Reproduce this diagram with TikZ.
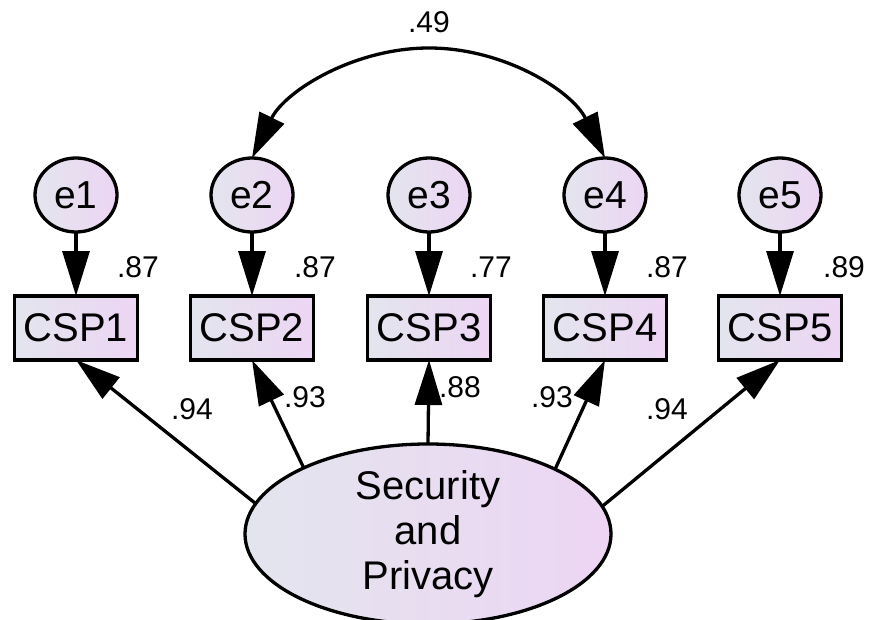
\documentclass[tikz,border=0pt]{standalone}
\usepackage{fontspec}
\setmainfont{Liberation Sans}
\usetikzlibrary{arrows.meta,shapes.geometric}
\definecolor{fillL}{RGB}{227,229,238}
\definecolor{fillR}{RGB}{237,213,243}
\begin{document}
\begin{tikzpicture}[x=1pt,y=-1pt,
  every node/.style={inner sep=0pt, outer sep=0pt},
  errv/.style={ellipse, draw, line width=3.3pt, minimum width=82pt, minimum height=74pt,
    left color=fillL, right color=fillR, font=\fontsize{39}{39}\selectfont},
  obsv/.style={rectangle, draw, line width=3.3pt, minimum width=123pt, minimum height=64pt,
    left color=fillL, right color=fillR, font=\fontsize{40}{40}\selectfont},
  latv/.style={ellipse, draw, line width=3.3pt, minimum width=366pt, minimum height=163pt,
    left color=fillL, right color=fillR, font=\fontsize{40}{45}\selectfont, align=center},
  lbl/.style={font=\fontsize{30}{30}\selectfont},
  pathar/.style={line width=3.3pt, -{Triangle[length=45pt,width=27pt]}},
  covtip/.style={line width=3.3pt, -{Triangle[length=45pt,width=27pt]}}
]
\useasboundingbox (0,0) rectangle (869,620);

% error terms
\node[errv] (e1) at (76,195) {e1};
\node[errv] (e2) at (252,195) {e2};
\node[errv] (e3) at (429,195) {e3};
\node[errv] (e4) at (605,195) {e4};
\node[errv] (e5) at (780,195) {e5};

% observed variables
\node[obsv] (c1) at (76,328) {CSP1};
\node[obsv] (c2) at (252,328) {CSP2};
\node[obsv] (c3) at (429,328) {CSP3};
\node[obsv] (c4) at (605,328) {CSP4};
\node[obsv] (c5) at (780,328) {CSP5};

% latent
\node[latv] (S) at (428,534) {Security\\and\\Privacy};

% error paths
\draw[pathar] (e1.south) -- (c1.north);
\draw[pathar] (e2.south) -- (c2.north);
\draw[pathar] (e3.south) -- (c3.north);
\draw[pathar] (e4.south) -- (c4.north);
\draw[pathar] (e5.south) -- (c5.north);

% loadings
\draw[pathar] (S.170.5) -- (c1.south);
\draw[pathar] (S.152.5) -- (c2.south);
\draw[pathar] (S.north) -- (c3.south);
\draw[pathar] (S.27.5) -- (c4.south);
\draw[pathar] (S.9.5) -- (c5.south);

% covariance (circular arc)
\coordinate (covtop) at (429,48);
\draw[covtip] (covtop) .. controls +(-75,0) and +(33,-67) .. (e2.north);
\draw[covtip] (covtop) .. controls +(75,0) and +(-33,-67) .. (e4.north);

% labels
\node[lbl] (l49) at (429,22) {.49};
\node[lbl] (r1) at (138,267) {.87};
\node[lbl] (r2) at (315,267) {.87};
\node[lbl] (r3) at (491,267) {.77};
\node[lbl] (r4) at (667,267) {.87};
\node[lbl] (r5) at (844,267) {.89};
\node[lbl] (w1) at (192,409) {.94};
\node[lbl] (w2) at (305,397) {.93};
\node[lbl] (w3) at (460,387) {.88};
\node[lbl] (w4) at (552,397) {.93};
\node[lbl] (w5) at (667,409) {.94};
\end{tikzpicture}
\end{document}
